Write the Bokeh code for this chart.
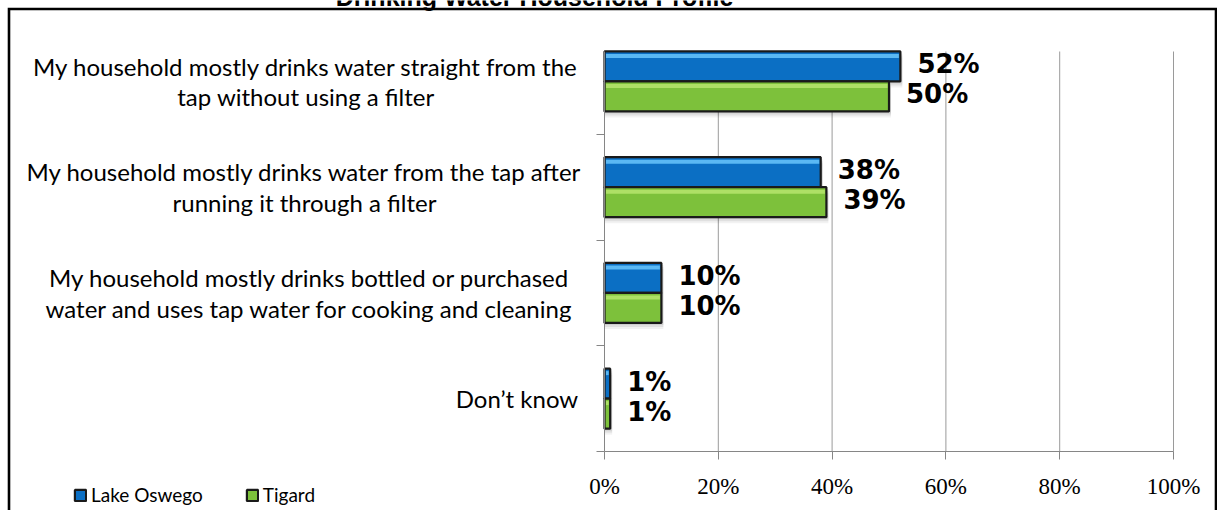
from bokeh.plotting import figure
from bokeh.models import FixedTicker, Legend, LegendItem, ColumnDataSource
from bokeh.core.properties import value
from bokeh.embed import file_html
from bokeh.resources import INLINE

# ---------------- data ----------------
title = "Drinking Water Household Profile"
categories = [
    "My household mostly drinks water straight from the\ntap without using a filter",
    "My household mostly drinks water from the tap after\nrunning it through a filter",
    "My household mostly drinks bottled or purchased\nwater and uses tap water for cooking and cleaning",
    "Don\u2019t know",
]
series_names = ["Lake Oswego", "Tigard"]
lake_oswego = [52, 38, 10, 1]
tigard = [50, 39, 10, 1]
x_ticks = [0, 20, 40, 60, 80, 100]
x_tick_labels = ["0%", "20%", "40%", "60%", "80%", "100%"]

# ---------------- layout (page pixels) ----------------
W, H = 1217, 510
X0, X100 = 604, 1173          # pixel of 0% and 100%
Y0 = 451                      # pixel of the bottom of the plot area
BAND = 105.75                 # pixels per category
PLOT_TOP = 51                 # pixel of the top of the plot area
PX_X = (X100 - X0) / 100.0
Y_TOP = (Y0 - PLOT_TOP) / BAND
LABEL_CENTERS = [305.5, 304, 309, 516.5]


def xd(px):
    return (px - X0) / PX_X


def yd(py):
    return (Y0 - py) / BAND


BAR_H = 30 / BAND
BLUE, BLUE_HI = "#0b6fc4", "#5ab8f4"
GREEN, GREEN_HI = "#7dc13b", "#aee066"
EDGE = "#1a1a1a"
AXIS = "#868686"

p = figure(width=W, height=H, output_backend="svg", toolbar_location=None,
           x_range=(xd(0), xd(W)), y_range=(yd(H), yd(0)),
           min_border=0, min_border_left=0, min_border_right=0,
           min_border_top=0, min_border_bottom=0)
p.outline_line_color = None
p.background_fill_color = "white"
p.border_fill_color = "white"
p.xgrid.visible = False
p.ygrid.visible = False

centers = [3.5 - i for i in range(len(categories))]
yb = [c + BAR_H / 2 for c in centers]
yg = [c - BAR_H / 2 for c in centers]

# vertical gridlines
p.segment(x0=x_ticks[1:], y0=0, x1=x_ticks[1:], y1=Y_TOP,
          line_color="#9a9a9a", line_width=1)

# soft shadows
for k, a in [(2, 0.08), (4, 0.07), (6, 0.05)]:
    for ys, vals in [(yb, lake_oswego), (yg, tigard)]:
        p.hbar(y=[y - k / BAND for y in ys], left=0,
               right=[v + 2 / PX_X for v in vals], height=BAR_H,
               fill_color="black", fill_alpha=a, line_color=None)

rb = p.hbar(y=yb, left=0, right=lake_oswego, height=BAR_H, fill_color=BLUE,
            line_color=EDGE, line_width=2.2)
rg = p.hbar(y=yg, left=0, right=tigard, height=BAR_H, fill_color=GREEN,
            line_color=EDGE, line_width=2.2)

# highlight strip near the top of each bar
for ys, vals, col in [(yb, lake_oswego, BLUE_HI), (yg, tigard, GREEN_HI)]:
    p.hbar(y=[y + BAR_H / 2 - 4.5 / BAND for y in ys], left=1.5 / PX_X,
           right=[max(v - 1.5 / PX_X, 1.5 / PX_X) for v in vals],
           height=4 / BAND, fill_color=col, line_color=None)

# data labels
src = ColumnDataSource(dict(
    x=lake_oswego + tigard,
    y=yb + yg,
    t=[f"{v}%" for v in lake_oswego + tigard],
))
p.text(x="x", y="y", text="t", source=src, x_offset=17, y_offset=-2,
       text_align="left", text_baseline="middle",
       text_font=value("DejaVu Sans"), text_font_style="bold",
       text_font_size="26px", text_color="black")

# category labels
p.text(x=[xd(c) for c in LABEL_CENTERS], y=centers, text=categories,
       text_align="center", text_baseline="middle",
       text_font=value("Lato"), text_font_size="24px", text_line_height=1.05,
       text_color="black")

# title (cut off at the top in the original)
p.text(x=[xd(534)], y=[yd(10)], text=[title], text_align="center",
       text_baseline="bottom", text_font=value("Liberation Sans"),
       text_font_style="bold", text_font_size="25px", text_color="black")

# axes, pinned at the plot-area edges
p.xaxis.fixed_location = 0
p.xaxis.bounds = (0, 100)
p.xaxis.ticker = FixedTicker(ticks=x_ticks)
p.xaxis.major_label_overrides = {t: l for t, l in zip(x_ticks, x_tick_labels)}
p.xaxis.major_label_text_font = "Liberation Serif"
p.xaxis.major_label_text_font_size = "23px"
p.xaxis.major_label_text_color = "black"
p.xaxis.major_label_standoff = 14
p.xaxis.axis_line_color = AXIS
p.xaxis.major_tick_line_color = AXIS
p.xaxis.major_tick_out = 8
p.xaxis.major_tick_in = 0
p.xaxis.minor_tick_line_color = None

p.yaxis.fixed_location = 0
p.yaxis.bounds = (0, Y_TOP)
p.yaxis.ticker = FixedTicker(ticks=[0, 1, 2, 3])
p.yaxis.major_label_overrides = {0: "", 1: "", 2: "", 3: ""}
p.yaxis.axis_line_color = AXIS
p.yaxis.major_tick_line_color = AXIS
p.yaxis.major_tick_out = 8
p.yaxis.major_tick_in = 0
p.yaxis.minor_tick_line_color = None

# legend
legend = Legend(items=[LegendItem(label=series_names[0], renderers=[rb]),
                       LegendItem(label=series_names[1], renderers=[rg])],
                orientation="horizontal", location=(73, 4),
                padding=0, margin=0, spacing=42, label_standoff=4,
                glyph_width=14, glyph_height=14, label_height=20,
                border_line_color=None, background_fill_alpha=0,
                label_text_font="Lato", label_text_font_size="19px",
                label_text_color="black")
p.add_layout(legend, "center")

# chart border (left, top and right sides)
p.line(x=[xd(8.5), xd(8.5), xd(1215.5), xd(1215.5)],
       y=[yd(530), yd(8.5), yd(8.5), yd(530)],
       line_color="black", line_width=2.6, line_join="miter")

open("out.html", "w").write(file_html(p, INLINE))
